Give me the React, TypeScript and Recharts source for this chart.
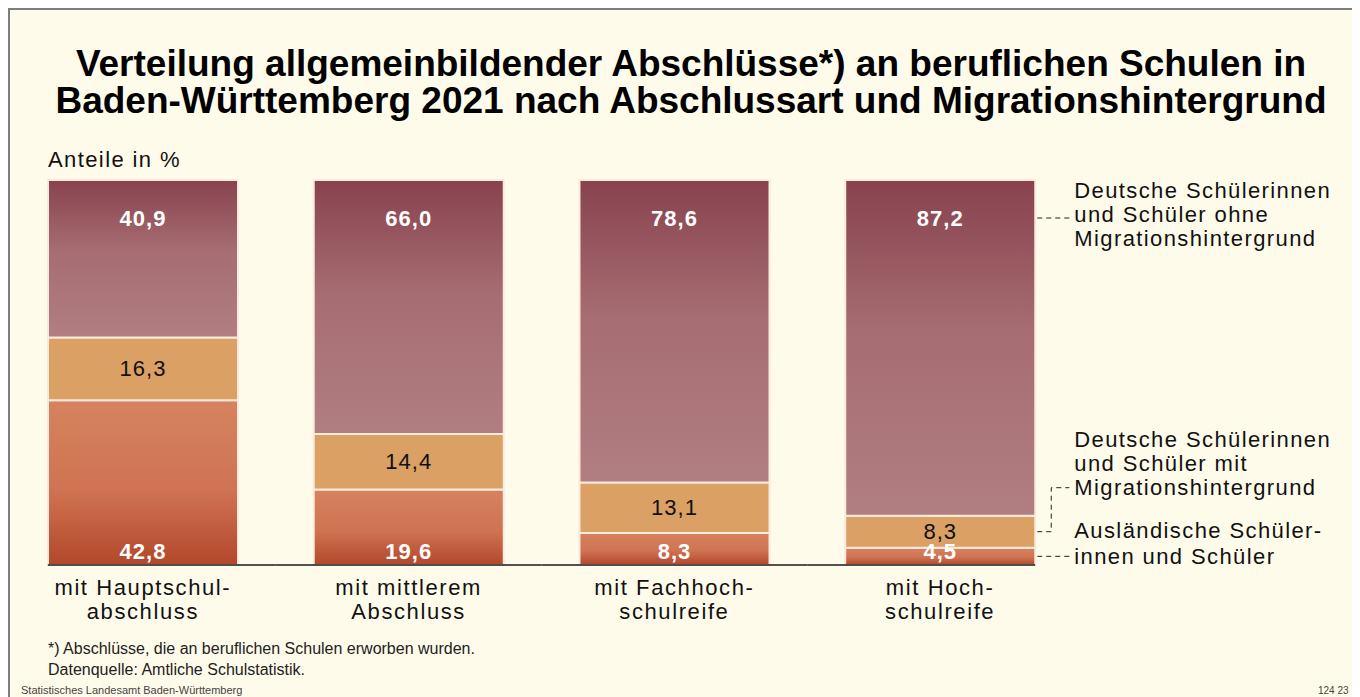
import { BarChart, Bar, XAxis, YAxis, LabelList } from "recharts";

// Abschlussart (two-line labels under the bars)
const categories = [
  ["mit Hauptschul-", "abschluss"],
  ["mit mittlerem", "Abschluss"],
  ["mit Fachhoch-", "schulreife"],
  ["mit Hoch-", "schulreife"],
];

// Anteile in %, stacked from the bottom
const auslaender = [42.8, 19.6, 8.3, 4.5];
const mitMigration = [16.3, 14.4, 13.1, 8.3];
const ohneMigration = [40.9, 66.0, 78.6, 87.2];

const legendOhne = ["Deutsche Schülerinnen", "und Schüler ohne", "Migrationshintergrund"];
const legendMit = ["Deutsche Schülerinnen", "und Schüler mit", "Migrationshintergrund"];
const legendAus = ["Ausländische Schüler-", "innen und Schüler"];

const data = categories.map((lines, i) => ({
  name: lines.join(" "),
  aus: auslaender[i],
  mit: mitMigration[i],
  ohne: ohneMigration[i],
}));

const FONT = "'Liberation Sans', Arial, Helvetica, sans-serif";
const TEXT_SPACING = 1.4;
const CHART_W = 1342;
const CHART_H = 679;
const PLOT_W = 1063;
const BAR_SIZE = 190;
const LEGEND_INDEX = categories.length - 1;

function fmt(v: number): string {
  return v.toFixed(1).replace(".", ",");
}

function box(props: any) {
  const vb = props.viewBox ?? props;
  return { x: vb.x, y: vb.y, width: vb.width, height: vb.height };
}

function LegendText({ x, ys, lines }: { x: number; ys: number[]; lines: string[] }) {
  return (
    <g>
      {lines.map((l, i) => (
        <text
          key={i}
          x={x}
          y={ys[i]}
          dominantBaseline="central"
          fontSize={22}
          fontFamily={FONT}
          fill="#111"
          style={{ letterSpacing: TEXT_SPACING }}
        >
          {l}
        </text>
      ))}
    </g>
  );
}

function TopLabel(props: any) {
  const { x, y, width } = box(props);
  const cy = y + 38;
  const right = x + width;
  return (
    <g>
      <text
        x={x + width / 2}
        y={cy}
        textAnchor="middle"
        dominantBaseline="central"
        fontSize={22}
        fontWeight="bold"
        fontFamily={FONT}
        fill="#fff"
        style={{ letterSpacing: 1 }}
      >
        {fmt(props.value)}
      </text>
      {props.index === LEGEND_INDEX && (
        <g>
          <path d={`M${right + 2},${cy} H${right + 34}`} stroke="#222" strokeDasharray="5 4" fill="none" />
          <LegendText x={right + 39} ys={[cy - 28, cy - 4, cy + 20]} lines={legendOhne} />
        </g>
      )}
    </g>
  );
}

function MidLabel(props: any) {
  const { x, y, width, height } = box(props);
  const cy = y + height / 2;
  const right = x + width;
  return (
    <g>
      <text
        x={x + width / 2}
        y={cy}
        textAnchor="middle"
        dominantBaseline="central"
        fontSize={22}
        fontFamily={FONT}
        fill="#111"
        style={{ letterSpacing: 1 }}
      >
        {fmt(props.value)}
      </text>
      {props.index === LEGEND_INDEX && (
        <g>
          <path
            d={`M${right + 2},${cy} H${right + 16} V${cy - 44} H${right + 34}`}
            stroke="#222"
            strokeDasharray="5 4"
            fill="none"
          />
          <LegendText x={right + 39} ys={[cy - 92, cy - 68, cy - 44]} lines={legendMit} />
        </g>
      )}
    </g>
  );
}

function BottomLabel(props: any) {
  const { x, y, width, height } = box(props);
  const cy = y + height / 2;
  const right = x + width;
  return (
    <g>
      <text
        x={x + width / 2}
        y={y + height - 14}
        textAnchor="middle"
        dominantBaseline="central"
        fontSize={22}
        fontWeight="bold"
        fontFamily={FONT}
        fill="#fff"
        style={{ letterSpacing: 1 }}
      >
        {fmt(props.value)}
      </text>
      {props.index === LEGEND_INDEX && (
        <g>
          <path d={`M${right + 2},${cy} H${right + 34}`} stroke="#222" strokeDasharray="5 4" fill="none" />
          <LegendText x={right + 39} ys={[cy - 26, cy]} lines={legendAus} />
        </g>
      )}
    </g>
  );
}

function CategoryTick(props: any) {
  const { x, y, index } = props;
  const band = PLOT_W / categories.length;
  const left = index === 0 ? x - BAR_SIZE / 2 : x - band / 2;
  const right = index === categories.length - 1 ? x + BAR_SIZE / 2 : x + band / 2;
  const lines = categories[index];
  return (
    <g>
      <line x1={left} x2={right} y1={y} y2={y} stroke="#1a1a1a" strokeWidth={1.6} />
      {lines.map((l, i) => (
        <text
          key={i}
          x={x}
          y={y + 22 + i * 24}
          textAnchor="middle"
          dominantBaseline="central"
          fontSize={22}
          fontFamily={FONT}
          fill="#111"
          style={{ letterSpacing: 1.6 }}
        >
          {l}
        </text>
      ))}
    </g>
  );
}

export default function App() {
  return (
    <div
      style={{
        position: "relative",
        width: 1352,
        height: 689,
        overflow: "hidden",
        background: "#fffbea",
        borderTop: "2px solid #7d7d7d",
        borderLeft: "2px solid #7d7d7d",
        boxSizing: "border-box",
        fontFamily: FONT,
        color: "#111",
      }}
    >
      <div
        style={{
          position: "absolute",
          left: 0,
          top: 35,
          width: 1362,
          textAlign: "center",
          fontSize: 37,
          lineHeight: "37px",
          fontWeight: "bold",
          color: "#000",
          whiteSpace: "nowrap",
        }}
      >
        Verteilung allgemeinbildender Abschlüsse*) an beruflichen Schulen in
        <br />
        Baden-Württemberg 2021 nach Abschlussart und Migrationshintergrund
      </div>
      <div
        style={{
          position: "absolute",
          left: 38,
          top: 138,
          fontSize: 22,
          lineHeight: "24px",
          letterSpacing: TEXT_SPACING,
        }}
      >
        Anteile in %
      </div>
      <div style={{ position: "absolute", left: 0, top: 0 }}>
        <BarChart
          width={CHART_W}
          height={CHART_H}
          data={data}
          margin={{ top: 170, right: CHART_W - PLOT_W, bottom: 54, left: 0 }}
          barSize={BAR_SIZE}
        >
          <defs>
            <linearGradient id="gradOhne" x1="0" y1="0" x2="0" y2="1">
              <stop offset="0%" stopColor="#88424e" />
              <stop offset="45%" stopColor="#a66d72" />
              <stop offset="100%" stopColor="#b17e82" />
            </linearGradient>
            <linearGradient id="gradAus" x1="0" y1="0" x2="0" y2="1">
              <stop offset="0%" stopColor="#d6835f" />
              <stop offset="55%" stopColor="#cf7353" />
              <stop offset="100%" stopColor="#b3472a" />
            </linearGradient>
          </defs>
          <XAxis
            dataKey="name"
            axisLine={false}
            tickLine={false}
            tickSize={0}
            tickMargin={0}
            height={70}
            interval={0}
            tick={<CategoryTick />}
          />
          <YAxis hide domain={[0, 100]} />
          <Bar dataKey="aus" stackId="a" fill="url(#gradAus)" stroke="#f8eadc" strokeWidth={2} isAnimationActive={false}>
            <LabelList dataKey="aus" content={<BottomLabel />} />
          </Bar>
          <Bar dataKey="mit" stackId="a" fill="#dba064" stroke="#f8eadc" strokeWidth={2} isAnimationActive={false}>
            <LabelList dataKey="mit" content={<MidLabel />} />
          </Bar>
          <Bar dataKey="ohne" stackId="a" fill="url(#gradOhne)" stroke="#f8eadc" strokeWidth={2} isAnimationActive={false}>
            <LabelList dataKey="ohne" content={<TopLabel />} />
          </Bar>
        </BarChart>
      </div>
      <div style={{ position: "absolute", left: 38, top: 628, fontSize: 16, lineHeight: "21px", color: "#222" }}>
        *) Abschlüsse, die an beruflichen Schulen erworben wurden.
        <br />
        Datenquelle: Amtliche Schulstatistik.
      </div>
      <div style={{ position: "absolute", left: 11, top: 674, fontSize: 11, color: "#444", whiteSpace: "nowrap" }}>
        Statistisches Landesamt Baden-Württemberg
      </div>
      <div
        style={{
          position: "absolute",
          left: 1308,
          top: 675,
          fontSize: 10,
          color: "#444",
          whiteSpace: "nowrap",
        }}
      >
        124 23
      </div>
    </div>
  );
}
